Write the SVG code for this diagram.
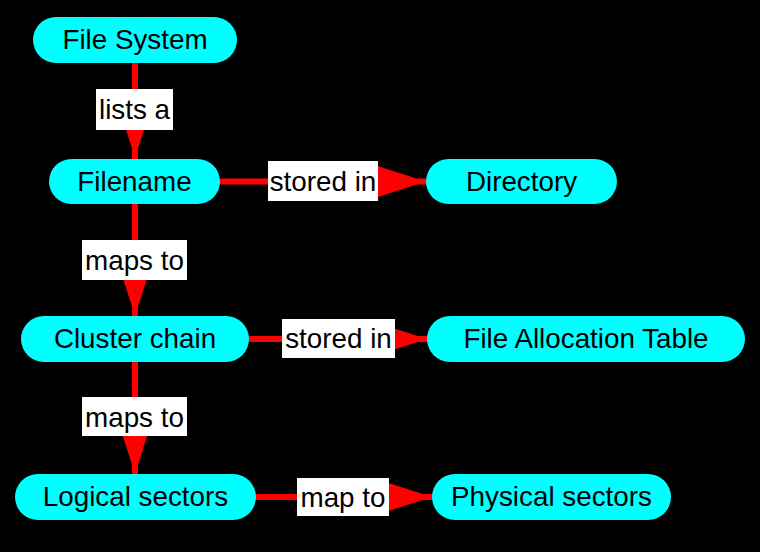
<svg xmlns="http://www.w3.org/2000/svg" width="760" height="552" viewBox="0 0 760 552">
<style>
.node rect{fill:#00ffff}
.node text,.lbl text{font-family:"Liberation Sans",Arial,sans-serif;font-size:27.8px;fill:#000;text-anchor:middle}
.edge{stroke:#ff0000;stroke-width:6;stroke-linecap:round;fill:none}
.lbl rect{fill:#ffffff}
</style>
<defs>
<marker id="arr" markerUnits="userSpaceOnUse" markerWidth="52" markerHeight="34" viewBox="0 0 50 32" refX="50" refY="16" orient="auto">
<path d="M0,0 L50,16 L0,32 Z" fill="#ff0000"/>
</marker>
</defs>
<rect x="0" y="0" width="760" height="552" fill="#000"/>
<g id="connectors">
<line class="edge" x1="135" y1="63" x2="135" y2="158" marker-end="url(#arr)"/>
<line class="edge" x1="221" y1="181.5" x2="426" y2="181.5" marker-end="url(#arr)"/>
<line class="edge" x1="135" y1="205" x2="135" y2="316" marker-end="url(#arr)"/>
<line class="edge" x1="250" y1="339" x2="427" y2="339" marker-end="url(#arr)"/>
<line class="edge" x1="135" y1="363" x2="135" y2="474" marker-end="url(#arr)"/>
<line class="edge" x1="257" y1="497" x2="432" y2="497" marker-end="url(#arr)"/>
<g class="lbl"><rect x="96" y="89" width="77" height="41"/><text x="134.5" y="118.5">lists a</text></g>
<g class="lbl"><rect x="268" y="161" width="110" height="40"/><text x="323" y="190.5">stored in</text></g>
<g class="lbl"><rect x="82" y="240" width="105" height="40"/><text x="134.5" y="269.5">maps to</text></g>
<g class="lbl"><rect x="282" y="319" width="113" height="39"/><text x="338.5" y="348">stored in</text></g>
<g class="lbl"><rect x="82" y="397" width="105" height="39"/><text x="134.5" y="426.5">maps to</text></g>
<g class="lbl"><rect x="297" y="478" width="92" height="38"/><text x="343" y="506.5">map to</text></g>
</g>
<g id="n1" class="node"><rect x="33" y="17" width="204" height="46" rx="23"/><text x="135" y="49">File System</text></g>
<g id="n2" class="node"><rect x="49" y="159" width="171" height="45" rx="22.5"/><text x="134.5" y="191">Filename</text></g>
<g id="n3" class="node"><rect x="426" y="159" width="191" height="45" rx="22.5"/><text x="521.5" y="191">Directory</text></g>
<g id="n4" class="node"><rect x="21" y="316" width="228" height="46" rx="23"/><text x="135" y="348">Cluster chain</text></g>
<g id="n5" class="node"><rect x="427" y="316" width="318" height="46" rx="23"/><text x="586" y="348">File Allocation Table</text></g>
<g id="n6" class="node"><rect x="15" y="474" width="241" height="46" rx="23"/><text x="135.5" y="506">Logical sectors</text></g>
<g id="n7" class="node"><rect x="432" y="474" width="239" height="46" rx="23"/><text x="551.5" y="506">Physical sectors</text></g>
</svg>
